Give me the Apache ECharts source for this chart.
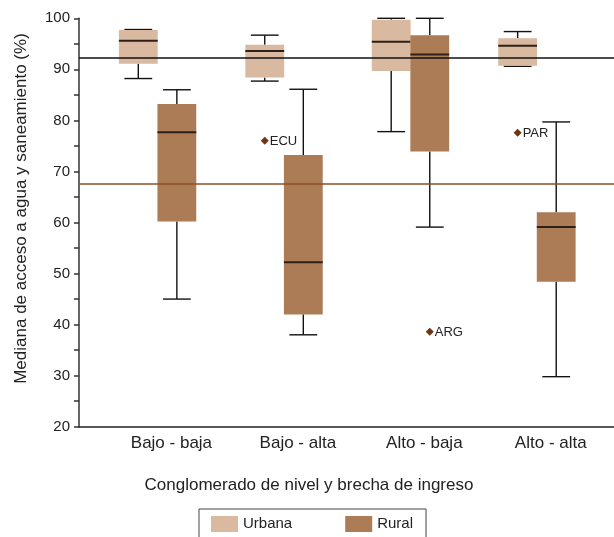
<!DOCTYPE html>
<html>
<head>
<meta charset="utf-8">
<script src="https://cdn.jsdelivr.net/npm/echarts@6/dist/echarts.min.js"></script>
<style>
  html, body { margin: 0; padding: 0; background: #fff; }
  #chart { width: 614px; height: 537px; }
</style>
</head>
<body>
<div id="chart"></div>
<script>
// Cluster categories along the horizontal axis
const categories = ['Bajo - baja', 'Bajo - alta', 'Alto - baja', 'Alto - alta'];

// Box statistics per cluster: [min, Q1, median, Q3, max]
const urbanaBox = [
  [88.2, 91.1, 95.6, 97.7, 97.8],
  [87.7, 88.4, 93.6, 94.8, 96.7],
  [77.8, 89.7, 95.4, 99.7, 100.0],
  [90.6, 90.7, 94.6, 96.1, 97.4]
];
const ruralBox = [
  [45.0, 60.2, 77.7, 83.2, 86.0],
  [38.0, 42.0, 52.2, 73.2, 86.1],
  [59.1, 73.9, 92.9, 96.7, 100.0],
  [29.8, 48.4, 59.1, 62.0, 79.7]
];

// Outlying countries: [cluster index, value, country code]
const urbanaOutliers = [[1, 76.0, 'ECU'], [3, 77.6, 'PAR']];
const ruralOutliers = [[2, 38.6, 'ARG']];

// Regional medians drawn as horizontal reference lines
const referenceUrbana = 92.3;
const referenceRural = 67.55;

// Value axis range
const yMin = 20;
const yMax = 100;
const yStep = 10;

const FONT = "'Liberation Sans', Arial, sans-serif";
const URBANA_COLOR = '#d9b9a0';
const RURAL_COLOR = '#ab7c55';
const WHISKER_COLOR = '#111111';
const MEDIAN_COLOR = '#2e2018';
const OUTLIER_COLOR = '#6e3514';

// Horizontal placement of each series inside a band (fraction of band width)
const URBANA_SLOT = -0.262;
const RURAL_SLOT = 0.043;
const BOX_FRAC = 0.307;
const CAP_FRAC = 0.22;

function boxRenderer(slot) {
  return function (params, api) {
    const i = api.value(0);
    const band = api.size([1, 0])[0];
    const cx = api.coord([i, api.value(3)])[0] + slot * band;
    const y = (dim) => api.coord([i, api.value(dim)])[1];
    const yLow = y(1), yQ1 = y(2), yMed = y(3), yQ3 = y(4), yHigh = y(5);
    const half = band * BOX_FRAC / 2;
    const cap = band * CAP_FRAC / 2;
    const lineStyle = { stroke: WHISKER_COLOR, lineWidth: 1.4 };
    return {
      type: 'group',
      children: [
        { type: 'line', shape: { x1: cx, y1: yHigh, x2: cx, y2: yQ3 }, style: lineStyle },
        { type: 'line', shape: { x1: cx, y1: yQ1, x2: cx, y2: yLow }, style: lineStyle },
        { type: 'line', shape: { x1: cx - cap, y1: yHigh, x2: cx + cap, y2: yHigh }, style: lineStyle },
        { type: 'line', shape: { x1: cx - cap, y1: yLow, x2: cx + cap, y2: yLow }, style: lineStyle },
        { type: 'rect', shape: { x: cx - half, y: yQ3, width: half * 2, height: yQ1 - yQ3 },
          style: { fill: api.visual('color') } },
        { type: 'line', shape: { x1: cx - half, y1: yMed, x2: cx + half, y2: yMed },
          style: { stroke: MEDIAN_COLOR, lineWidth: 2 } }
      ]
    };
  };
}

function outlierRenderer(slot, list) {
  return function (params, api) {
    const i = api.value(0);
    const band = api.size([1, 0])[0];
    const pt = api.coord([i, api.value(1)]);
    const cx = pt[0] + slot * band;
    const cy = pt[1];
    const r = 4;
    return {
      type: 'group',
      children: [
        { type: 'polygon',
          shape: { points: [[cx, cy - r], [cx + r, cy], [cx, cy + r], [cx - r, cy]] },
          style: { fill: OUTLIER_COLOR } },
        { type: 'text',
          style: { text: list[params.dataIndex][2], x: cx + 5, y: cy + 0.5,
                   verticalAlign: 'middle', align: 'left', fill: '#222',
                   font: '13px ' + FONT } }
      ]
    };
  };
}

const chart = echarts.init(document.getElementById('chart'), null, { renderer: 'canvas' });

const plotTop = 18.3;
const plotHeight = 408.4;

chart.setOption({
  backgroundColor: '#ffffff',
  animation: false,
  textStyle: { fontFamily: FONT },
  grid: [
    // frame grid carrying the visible axes and reference lines
    { left: 79, top: plotTop, width: 535, height: plotHeight, containLabel: false },
    // data grid holding the boxes and category labels
    { left: 108.2, top: plotTop, width: 508, height: plotHeight, containLabel: false }
  ],
  xAxis: [
    { gridIndex: 0, type: 'value', min: 0, max: 1,
      axisLine: { show: true, lineStyle: { color: '#222', width: 1.5 } },
      axisTick: { show: false }, axisLabel: { show: false }, splitLine: { show: false } },
    { gridIndex: 1, type: 'category', data: categories,
      axisLine: { show: false }, axisTick: { show: false }, splitLine: { show: false },
      axisLabel: { fontSize: 17, color: '#222', margin: 8, fontFamily: FONT } }
  ],
  yAxis: [
    { gridIndex: 0, type: 'value', min: yMin, max: yMax, interval: yStep,
      axisLine: { show: true, lineStyle: { color: '#333', width: 1.5 } },
      axisTick: { show: true, inside: false, length: 5, lineStyle: { color: '#333', width: 1.5 } },
      minorTick: { show: true, splitNumber: 2, length: 5, lineStyle: { color: '#333', width: 1.5 } },
      splitLine: { show: false },
      axisLabel: { fontSize: 15, color: '#222', margin: 9, fontFamily: FONT } },
    { gridIndex: 1, type: 'value', min: yMin, max: yMax, show: false }
  ],
  legend: {
    data: ['Urbana', 'Rural'],
    left: 199, top: 509,
    orient: 'horizontal',
    icon: 'rect',
    itemWidth: 27, itemHeight: 16, itemGap: 53,
    padding: [7, 13, 7, 12],
    borderColor: '#444', borderWidth: 1, borderRadius: 0,
    backgroundColor: '#fff',
    textStyle: { fontSize: 15, color: '#222', fontFamily: FONT },
    selectedMode: false
  },
  graphic: [
    { type: 'text', x: 309, y: 485,
      style: { text: 'Conglomerado de nivel y brecha de ingreso', fill: '#222',
               font: '17px ' + FONT, textAlign: 'center', textVerticalAlign: 'middle' } },
    { type: 'text', x: 21, y: 208.5, rotation: Math.PI / 2,
      style: { text: 'Mediana de acceso a agua y saneamiento (%)', fill: '#222',
               font: '17px ' + FONT, textAlign: 'center', textVerticalAlign: 'middle' } }
  ],
  series: [
    {
      name: 'Urbana', type: 'custom', xAxisIndex: 1, yAxisIndex: 1,
      itemStyle: { color: URBANA_COLOR },
      renderItem: boxRenderer(URBANA_SLOT),
      encode: { x: 0, y: [1, 2, 3, 4, 5] },
      data: urbanaBox.map((b, i) => [i].concat(b)),
      z: 2
    },
    {
      name: 'Rural', type: 'custom', xAxisIndex: 1, yAxisIndex: 1,
      itemStyle: { color: RURAL_COLOR },
      renderItem: boxRenderer(RURAL_SLOT),
      encode: { x: 0, y: [1, 2, 3, 4, 5] },
      data: ruralBox.map((b, i) => [i].concat(b)),
      z: 3
    },
    {
      name: 'Atípicos urbana', type: 'custom', xAxisIndex: 1, yAxisIndex: 1,
      renderItem: outlierRenderer(URBANA_SLOT, urbanaOutliers),
      encode: { x: 0, y: 1 },
      data: urbanaOutliers.map(o => [o[0], o[1]]),
      z: 4
    },
    {
      name: 'Atípicos rural', type: 'custom', xAxisIndex: 1, yAxisIndex: 1,
      renderItem: outlierRenderer(RURAL_SLOT, ruralOutliers),
      encode: { x: 0, y: 1 },
      data: ruralOutliers.map(o => [o[0], o[1]]),
      z: 4
    },
    {
      name: 'Referencias', type: 'line', xAxisIndex: 0, yAxisIndex: 0,
      data: [], silent: true, z: 10,
      markLine: {
        silent: true, symbol: ['none', 'none'], label: { show: false },
        emphasis: { disabled: true },
        data: [
          { yAxis: referenceUrbana, lineStyle: { color: '#111', width: 1.5, type: 'solid' } },
          { yAxis: referenceRural, lineStyle: { color: '#8c4f26', width: 1.5, type: 'solid' } }
        ]
      }
    }
  ]
});
</script>
</body>
</html>
